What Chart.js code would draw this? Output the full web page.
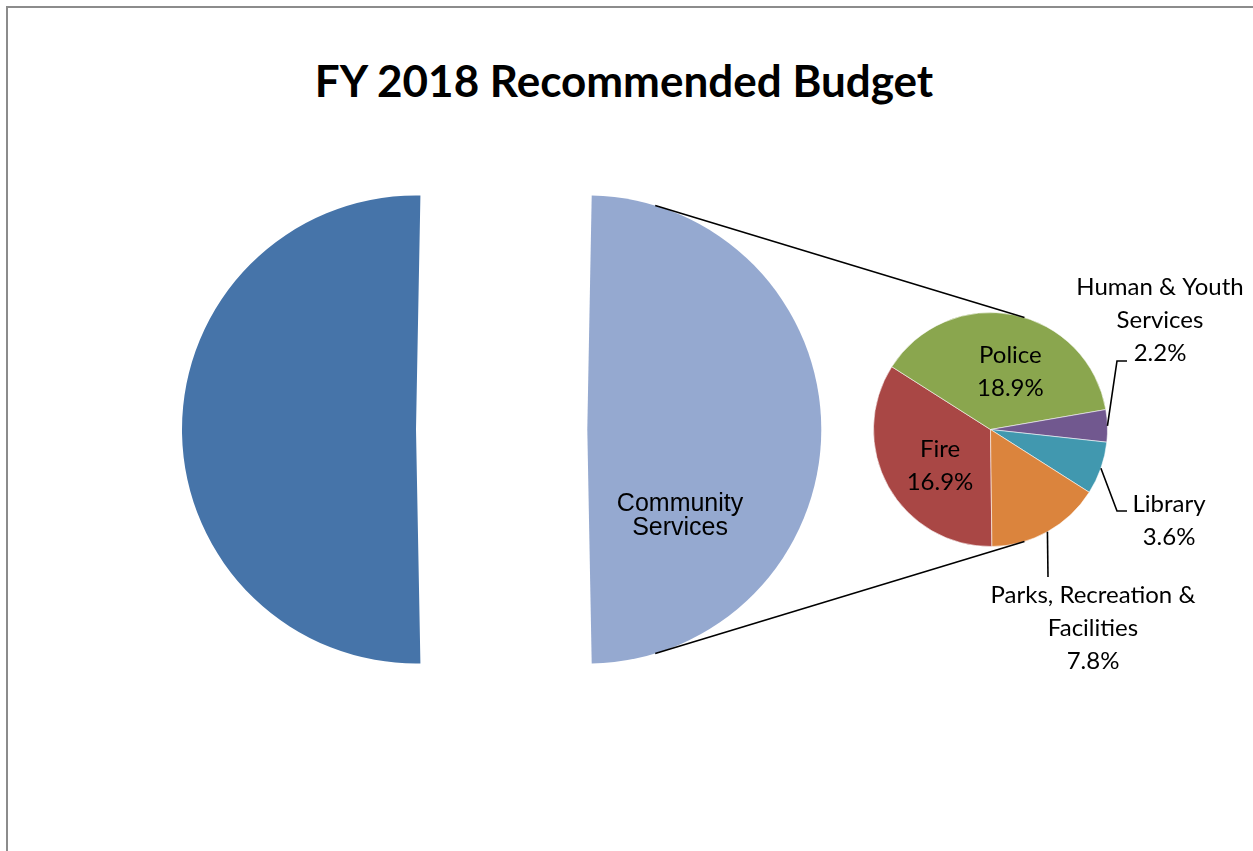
<!DOCTYPE html>
<html lang="en">
<head>
<meta charset="utf-8">
<title>FY 2018 Recommended Budget</title>
<script src="https://cdn.jsdelivr.net/npm/chart.js@4.4.1/dist/chart.umd.min.js"></script>
<style>
  html, body { margin: 0; padding: 0; background: #fff; overflow: hidden; }
  #stage { position: relative; width: 1253px; height: 851px; overflow: hidden; }
  #frame { position: absolute; left: 6px; top: 6px; width: 1400px; height: 1000px;
           border-top: 2px solid #8c8c8c; border-left: 2px solid #8c8c8c; }
  #title { position: absolute; left: 0; top: 58px; width: 1248px; margin: 0;
           text-align: center; font: bold 44px/44px Lato, "Open Sans", sans-serif; color: #000; }
  canvas { position: absolute; left: 0; top: 0; }
</style>
</head>
<body>
<div id="stage">
  <div id="frame"></div>
  <h1 id="title">FY 2018 Recommended Budget</h1>
  <canvas id="mainLeft" width="1253" height="851"></canvas>
  <canvas id="mainRight" width="1253" height="851"></canvas>
  <canvas id="detailPie" width="1253" height="851"></canvas>
</div>
<script>
// Share of the whole recommended budget, in percent
const mainLabels = ['All Other Departments', ['Community', 'Services']];
const mainValues = [50.6, 49.4];
const mainColors = ['#4674A9', '#95A9D0'];

// Community Services broken down by department, in percent of the whole budget
const detailLabels = ['Fire', 'Police', ['Human & Youth', 'Services'], 'Library', ['Parks, Recreation &', 'Facilities']];
const detailValues = [16.9, 18.9, 2.2, 3.6, 7.8];
const detailColors = ['#A94745', '#8AA64E', '#71588F', '#4198AF', '#DB843D'];

const RAD = Math.PI / 180;
const LABEL_FONT = '24px Lato, "Open Sans", sans-serif';
const MAIN_RADIUS = 234;
const MAIN_ROTATION = 178.92;   // centres the larger slice on the left

function arcGeometry(arc) {
  const p = arc.getProps(['x', 'y', 'startAngle', 'endAngle', 'outerRadius'], true);
  return { x: p.x, y: p.y, r: p.outerRadius, mid: (p.startAngle + p.endAngle) / 2 };
}

// The two outer tangent segments between circle a and circle b
function outerTangents(a, b) {
  const dx = b.x - a.x, dy = b.y - a.y, d = Math.hypot(dx, dy);
  const base = Math.atan2(dy, dx), spread = Math.acos((a.r - b.r) / d);
  return [base - spread, base + spread].map(n => [
    [a.x + a.r * Math.cos(n), a.y + a.r * Math.sin(n)],
    [b.x + b.r * Math.cos(n), b.y + b.r * Math.sin(n)]
  ]);
}

function fillLines(ctx, lines, x, firstBaseline, lineHeight) {
  lines.forEach((t, i) => ctx.fillText(t, x, firstBaseline + i * lineHeight));
}

// Caption drawn inside one slice of the split pie
const sliceCaption = {
  id: 'sliceCaption',
  afterDatasetsDraw(chart, args, opts) {
    if (!opts.show) return;
    const ctx = chart.ctx;
    const g = arcGeometry(chart.getDatasetMeta(0).data[opts.index]);
    const lines = [].concat(chart.data.labels[opts.index]);
    const ang = g.mid + opts.angle * RAD;
    const cx = g.x + Math.cos(ang) * g.r * opts.distance;
    const cy = g.y + Math.sin(ang) * g.r * opts.distance;
    ctx.save();
    ctx.font = opts.font;
    ctx.fillStyle = '#000';
    ctx.textAlign = 'center';
    ctx.textBaseline = 'alphabetic';
    fillLines(ctx, lines, cx, cy - (lines.length - 1) * opts.lineHeight / 2 + opts.capHeight / 2, opts.lineHeight);
    ctx.restore();
  }
};

// Links to the split pie, plus department names and percentages
const detailAnnotations = {
  id: 'detailAnnotations',
  afterDatasetsDraw(chart, args, opts) {
    const ctx = chart.ctx;
    const arcs = chart.getDatasetMeta(0).data;
    const c = arcs[0].getProps(['x', 'y', 'outerRadius'], true);
    const pie = { x: c.x, y: c.y, r: c.outerRadius };
    const source = arcGeometry(opts.source().getDatasetMeta(0).data[1]);

    ctx.save();
    ctx.strokeStyle = '#000';
    ctx.lineWidth = 1.6;
    outerTangents(source, pie).forEach(([p, q]) => {
      ctx.beginPath();
      ctx.moveTo(p[0], p[1]);
      ctx.lineTo(q[0], q[1]);
      ctx.stroke();
    });

    ctx.font = LABEL_FONT;
    ctx.fillStyle = '#000';
    ctx.textAlign = 'center';
    ctx.textBaseline = 'alphabetic';
    const lh = opts.lineHeight;

    arcs.forEach((arc, i) => {
      const p = arc.getProps(['startAngle', 'endAngle'], true);
      const mid = (p.startAngle + p.endAngle) / 2;
      const lines = [].concat(chart.data.labels[i], chart.data.datasets[0].data[i].toFixed(1) + '%');
      const place = opts.placement[i];
      if (place.inside) {
        const cx = pie.x + Math.cos(mid) * pie.r * opts.insideDistance + place.dx;
        const cy = pie.y + Math.sin(mid) * pie.r * opts.insideDistance + place.dy;
        fillLines(ctx, lines, cx, cy - (lines.length - 1) * lh / 2 + opts.capHeight / 2, lh);
      } else {
        const sx = pie.x + Math.cos(mid) * pie.r;
        const sy = pie.y + Math.sin(mid) * pie.r;
        ctx.beginPath();
        ctx.moveTo(sx, sy);
        ctx.lineTo(pie.x + place.elbow[0], pie.y + place.elbow[1]);
        if (place.end) ctx.lineTo(pie.x + place.end[0], pie.y + place.end[1]);
        ctx.stroke();
        fillLines(ctx, lines, pie.x + place.text[0], pie.y + place.text[1], lh);
      }
    });
    ctx.restore();
  }
};

// The split pie is drawn as two halves pulled apart: each chart paints one
// slice of the same data and leaves the other one clear.
function splitHalf(canvasId, shownIndex, padding) {
  return new Chart(document.getElementById(canvasId), {
    type: 'pie',
    data: {
      labels: mainLabels,
      datasets: [{
        data: mainValues,
        backgroundColor: mainColors.map((col, i) => (i === shownIndex ? col : 'rgba(0,0,0,0)')),
        borderWidth: 0
      }]
    },
    options: {
      responsive: false,
      devicePixelRatio: 1,
      animation: false,
      events: [],
      radius: MAIN_RADIUS,
      rotation: MAIN_ROTATION,
      layout: { padding },
      plugins: {
        legend: { display: false },
        tooltip: { enabled: false },
        sliceCaption: {
          show: shownIndex === 1, index: 1, distance: 0.536, angle: 42.3,
          font: '25px "Liberation Sans", Arial, sans-serif', lineHeight: 24.5, capHeight: 18
        }
      }
    },
    plugins: [sliceCaption]
  });
}

splitHalf('mainLeft', 0, { left: 0, right: 421, top: 8, bottom: 0 });
const mainRight = splitHalf('mainRight', 1, { left: 0, right: 78.4, top: 8, bottom: 0 });

new Chart(document.getElementById('detailPie'), {
  type: 'pie',
  data: {
    labels: detailLabels,
    datasets: [{
      data: detailValues,
      backgroundColor: detailColors,
      borderColor: 'rgba(255,255,255,0.55)',
      borderWidth: 1
    }]
  },
  options: {
    responsive: false,
    devicePixelRatio: 1,
    animation: false,
    events: [],
    radius: 117,
    rotation: 179.3,
    layout: { padding: { left: 728, right: 0, top: 8, bottom: 0 } },
    plugins: {
      legend: { display: false },
      tooltip: { enabled: false },
      detailAnnotations: {
        source: () => mainRight,
        lineHeight: 33,
        capHeight: 17,
        insideDistance: 0.53,
        placement: [
          { inside: true, dx: 3.7, dy: 5.4 },
          { inside: true, dx: 7.7, dy: 2.3 },
          { elbow: [126.5, -68.5], end: [136.5, -68.5], text: [169.5, -134.5] },
          { elbow: [126.5, 81.5], end: [136.5, 81.5], text: [178.5, 82.2] },
          { elbow: [57.5, 147.5], text: [102.5, 173.5] }
        ]
      }
    }
  },
  plugins: [detailAnnotations]
});
</script>
</body>
</html>
